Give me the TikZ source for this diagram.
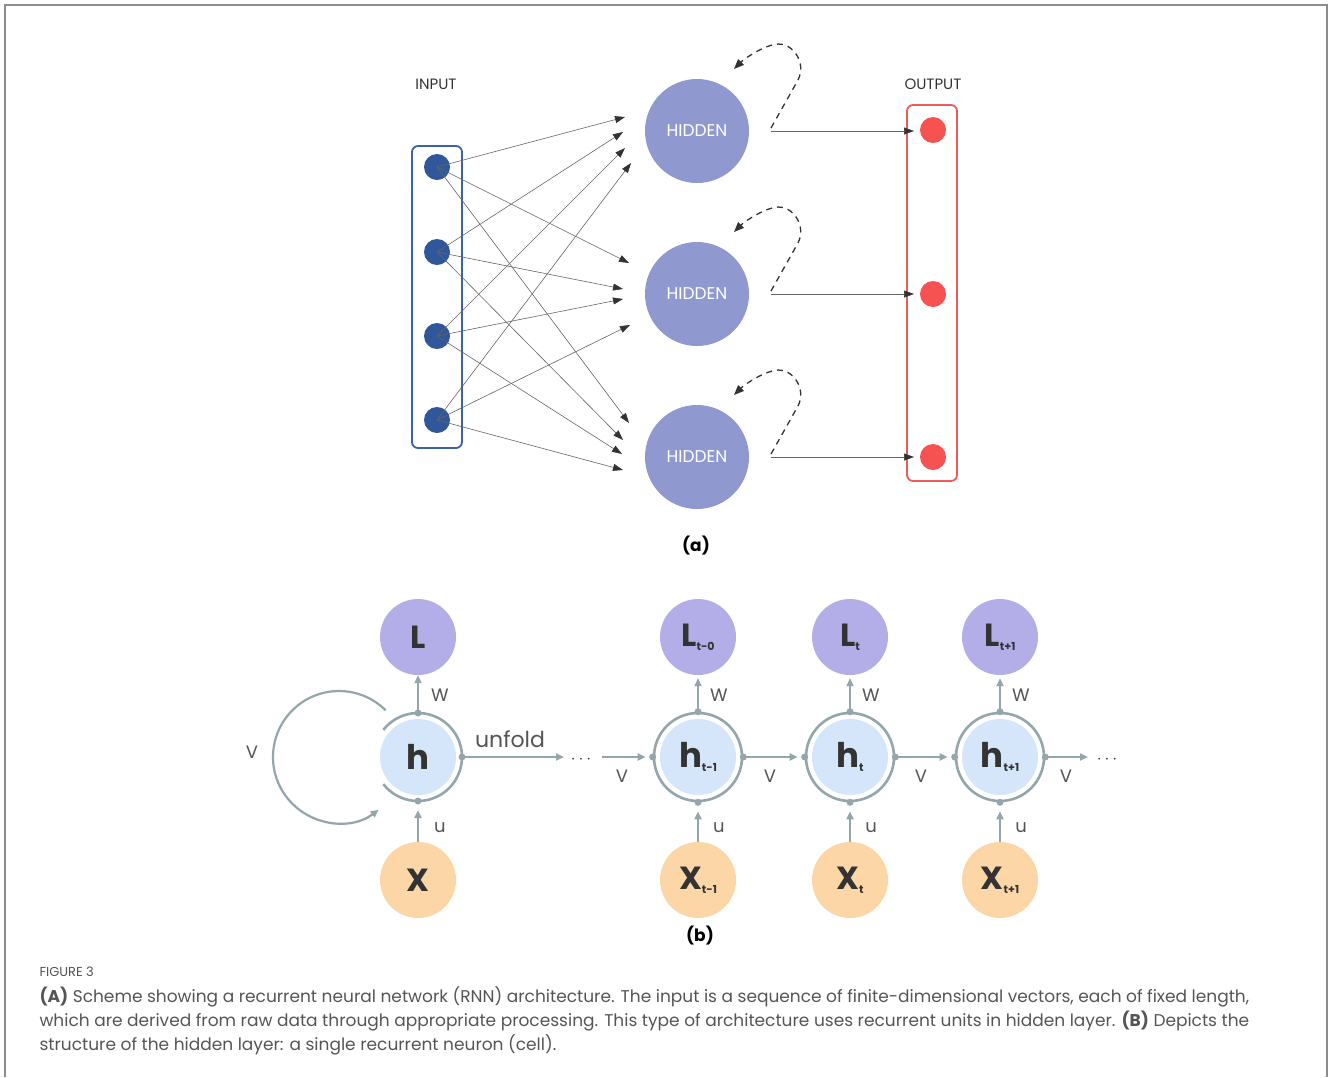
\documentclass[tikz,border=0pt]{standalone}
\usepackage{fontspec}
\setmainfont{Poppins}
\usetikzlibrary{arrows.meta}

\definecolor{inkc}{HTML}{333333}
\definecolor{framec}{HTML}{8C8C8C}
\definecolor{inblue}{HTML}{3A62A8}
\definecolor{indot}{HTML}{2F579A}
\definecolor{hidc}{HTML}{8F99CF}
\definecolor{outred}{HTML}{F05A5A}
\definecolor{outdot}{HTML}{F75252}
\definecolor{edgec}{HTML}{666666}
\definecolor{Lc}{HTML}{B3AEE8}
\definecolor{hc}{HTML}{D6E6FA}
\definecolor{Xc}{HTML}{FCD6A6}
\definecolor{ringc}{HTML}{94A5AB}
\definecolor{capc}{HTML}{555555}

\newcommand{\fsz}[1]{\fontsize{#1}{#1}\selectfont}

\tikzset{
  x=1pt, y=1pt,
  indotst/.style={circle, fill=indot, minimum size=26, inner sep=0},
  outdotst/.style={circle, fill=outdot, minimum size=26, inner sep=0},
  hidst/.style={circle, fill=hidc, minimum size=104, inner sep=0,
    text=white, font=\fsz{17}},
  layerbox/.style={draw, rounded corners=6, line width=1.8, minimum width=50},
  netarrow/.style={draw=edgec, line width=0.6,
    -{Triangle[length=10pt,width=7pt,color=inkc]}},
  loopst/.style={draw=inkc, line width=1.3, dash pattern=on 6pt off 5pt,
    -{Triangle[length=10pt,width=8pt,color=inkc]}},
  headst/.style={text=inkc, font=\fsz{15}},
  Lst/.style={circle, fill=Lc, minimum size=76, inner sep=0, text=inkc, font=\bfseries\fsz{32}},
  Xst/.style={circle, fill=Xc, minimum size=76, inner sep=0, text=inkc, font=\bfseries\fsz{32}},
  hst/.style={circle, fill=hc, minimum size=76, inner sep=0, text=inkc, font=\bfseries\fsz{34}},
  ringst/.style={circle, draw=ringc, line width=2.6, minimum size=88, inner sep=0},
  garrow/.style={draw=ringc, line width=2.2,
    -{Triangle[length=8pt,width=7pt,color=ringc]}},
  wlab/.style={text=capc, font=\fsz{18}},
  dotsst/.style={text=inkc, font=\bfseries\fsz{18}},
  capst/.style={anchor=base west, text=capc, font=\fsz{17}},
}

% subscript placed at the lower right of a big letter
\newcommand{\sbs}[1]{\raisebox{-4pt}{\fsz{11}\bfseries #1}}

\begin{document}
\begin{tikzpicture}
\useasboundingbox (0,0) rectangle (1328,-1077);

% outer frame
\draw[framec, line width=2] (5,-1077) -- (5,-5) -- (1327,-5) -- (1327,-1077);

% ---------------- (a) feed-forward view with recurrent hidden units
\node[headst] (inlab) at (436,-84) {INPUT};
\node[headst] (outlab) at (933,-84) {OUTPUT};

\node[layerbox, draw=inblue, minimum height=302] (inbox) at (437,-297) {};
\node[layerbox, draw=outred, minimum height=376] (outbox) at (932,-293) {};

\node[indotst] (i1) at (437,-167) {};
\node[indotst] (i2) at (437,-252) {};
\node[indotst] (i3) at (437,-336) {};
\node[indotst] (i4) at (437,-420) {};

\node[hidst] (h1) at (697,-131) {HIDDEN};
\node[hidst] (h2) at (697,-294) {HIDDEN};
\node[hidst] (h3) at (697,-457) {HIDDEN};

\node[outdotst] (o1) at (933,-130) {};
\node[outdotst] (o2) at (933,-294) {};
\node[outdotst] (o3) at (933,-457) {};

% arrow ends in front of each hidden unit
\coordinate (e11) at (625,-117); \coordinate (e21) at (623,-132);
\coordinate (e31) at (625,-148); \coordinate (e41) at (631,-163);
\coordinate (e12) at (629,-263); \coordinate (e22) at (623,-289);
\coordinate (e32) at (623,-299); \coordinate (e42) at (630,-325);
\coordinate (e13) at (629,-423); \coordinate (e23) at (623,-440);
\coordinate (e33) at (622,-454); \coordinate (e43) at (623,-470);

\foreach \i in {1,2,3,4}{
  \foreach \j in {1,2,3}{
    \draw[netarrow] (i\i.center) -- (e\i\j);
  }
}

% hidden -> output, and the dashed self-loop of each hidden unit
\foreach \j/\yy in {1/-131,2/-294,3/-457}{
  \coordinate (s\j) at (771,\yy);
  \coordinate (t\j) at (914,\yy);
  \draw[netarrow] (s\j) -- (t\j);
  \draw[loopst] ([yshift=3]s\j) -- ++(27,48)
     .. controls +(9,18) and +(14,1) .. ++(-20,36)
     .. controls +(-14,-1) and +(10,10) .. ++(-44,-25);
}

\node[font=\bfseries\fsz{17}, text=black] (lab-a) at (696,-546) {(a)};

% ---------------- (b) folded and unfolded recurrent cell
% folded cell
\node[Lst] (L0) at (418,-637) {L};
\node[hst] (H0) at (418,-757) {h};
\node[Xst] (X0) at (418,-880) {X};
\draw[ringc, line width=2.6] (418,-757) ++(-142:44) arc[start angle=-142, end angle=142, radius=44];
\coordinate (R0n) at (418,-713);
\coordinate (R0s) at (418,-801);
\coordinate (R0e) at (462,-757);
\draw[garrow] (R0n) -- (L0.south);
\draw[garrow, shorten >=9pt] (X0.north) -- (R0s);
\foreach \p in {R0n,R0s,R0e} \fill[ringc] (\p) circle (3.5);
\draw[garrow] (339,-757) ++(45:66) arc[start angle=45, end angle=307, radius=66];
\node[wlab] (v0) at (252,-752) {V};
\node[wlab] (w0) at (440,-695) {W};
\node[wlab] (u0) at (440,-828) {u};

\coordinate (unf) at (564,-757);
\draw[garrow] (R0e) -- (unf);
\node[text=capc, font=\fsz{22}] (unfl) at (510,-739) {unfold};
\node[dotsst] (dots1) at (581,-760) {$\cdots$};
\coordinate (ent) at (602,-757);

% unfolded cells
\foreach \k/\xx/\ls/\hs/\xs in {1/698/t-0/t-1/t-1, 2/850/t/t/t, 3/1000/t+1/t+1/t+1}{
  \node[Lst] (L\k) at (\xx,-637) {L\sbs{\ls}};
  \node[hst] (H\k) at (\xx,-757) {h\sbs{\hs}};
  \node[Xst] (X\k) at (\xx,-880) {X\sbs{\xs}};
  \node[ringst] (R\k) at (\xx,-757) {};
  \draw[garrow, shorten >=3pt] (R\k.north) -- (L\k.south);
  \draw[garrow, shorten >=9pt] (X\k.north) -- (R\k.south);
  \foreach \a in {north,south,east,west} \fill[ringc] (R\k.\a) circle (3.5);
  \node[wlab] (w\k) at (\xx+21,-695) {W};
  \node[wlab] (u\k) at (\xx+21,-828) {u};
}

\draw[garrow, shorten >=7pt] (ent) -- (R1.west);
\draw[garrow, shorten >=7pt] (R1.east) -- (R2.west);
\draw[garrow, shorten >=7pt] (R2.east) -- (R3.west);
\coordinate (ext) at (1088,-757);
\draw[garrow] (R3.east) -- (ext);
\node[dotsst] (dots2) at (1107,-760) {$\cdots$};

\node[wlab] (v1) at (622,-776) {V};
\node[wlab] (v2) at (770,-776) {V};
\node[wlab] (v3) at (921,-776) {V};
\node[wlab] (v4) at (1066,-776) {V};

\node[font=\bfseries\fsz{17}, text=black] (lab-b) at (700,-936) {(b)};

% ---------------- caption
\node[anchor=west, text=capc, font=\fsz{13}] (fig) at (36,-972) {FIGURE 3};
\node[capst] (c1) at (36,-1002)
  {\textbf{(A)} Scheme showing a recurrent neural network (RNN) architecture. The input is a sequence of finite-dimensional vectors, each of fixed length,};
\node[capst] (c2) at (36,-1026)
  {which are derived from raw data through appropriate processing. This type of architecture uses recurrent units in hidden layer. \textbf{(B)} Depicts the};
\node[capst] (c3) at (36,-1050)
  {structure of the hidden layer: a single recurrent neuron (cell).};
\end{tikzpicture}
\end{document}
